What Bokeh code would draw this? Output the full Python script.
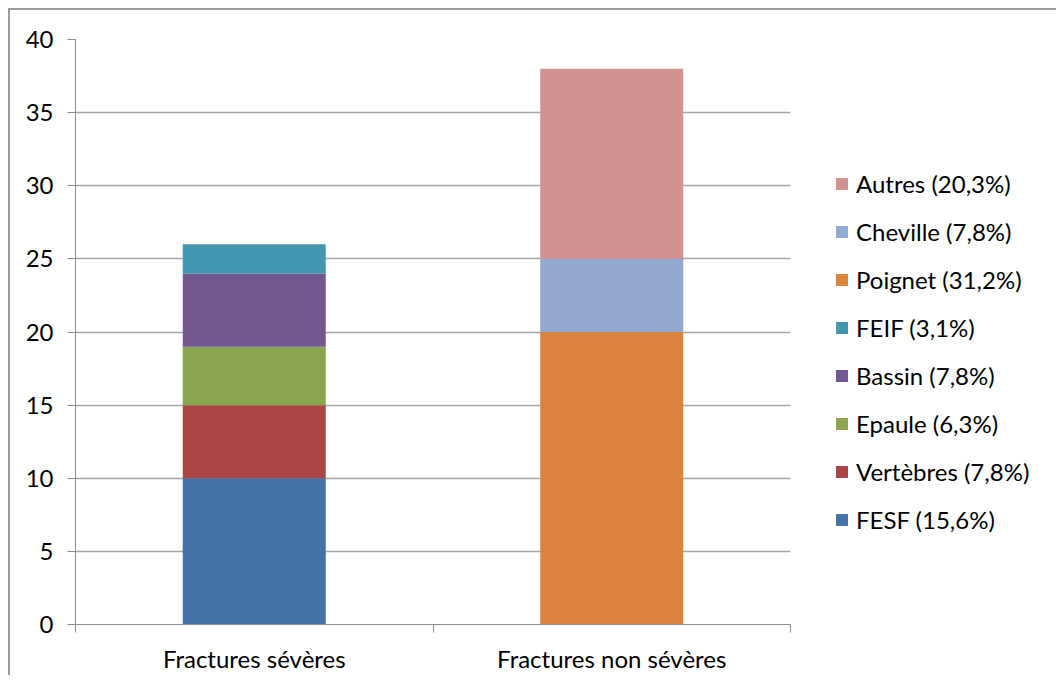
from bokeh.plotting import figure
from bokeh.models import ColumnDataSource, FixedTicker, Legend, LegendItem, Range1d
from bokeh.embed import file_html
from bokeh.resources import INLINE

categories = ["Fractures sévères", "Fractures non sévères"]
series = ["FESF", "Vertèbres", "Epaule", "Bassin", "FEIF", "Poignet", "Cheville", "Autres"]
labels = ["FESF (15,6%)", "Vertèbres (7,8%)", "Epaule (6,3%)", "Bassin (7,8%)",
          "FEIF (3,1%)", "Poignet (31,2%)", "Cheville (7,8%)", "Autres (20,3%)"]
fesf = [10, 0]
vertebres = [5, 0]
epaule = [4, 0]
bassin = [5, 0]
feif = [2, 0]
poignet = [0, 20]
cheville = [0, 5]
autres = [0, 13]
colors = ["#4572A7", "#AA4643", "#89A54E", "#71588F", "#4198AF", "#DB843D", "#93A9CF", "#D19392"]
y_ticks = [0, 5, 10, 15, 20, 25, 30, 35, 40]

FONT = "Lato"
xpos = [i + 0.5 for i in range(len(categories))]
data = {"x": xpos}
for name, vals in zip(series, [fesf, vertebres, epaule, bassin, feif, poignet, cheville, autres]):
    data[name] = vals
src = ColumnDataSource(data)

p = figure(frame_width=715, frame_height=585, output_backend="svg", toolbar_location=None,
           x_range=Range1d(0, len(categories)), y_range=Range1d(0, 40),
           min_border_left=65, min_border_top=29, min_border_right=0, min_border_bottom=45,
           styles={"margin-left": "8px", "margin-top": "8px",
                   "border-left": "2px solid #9a9a9a", "border-top": "2px solid #9a9a9a"})
p.outline_line_color = None
p.background_fill_color = "white"
p.border_fill_color = "white"

rs = p.vbar_stack(series, x="x", width=0.4, source=src, color=colors, line_color=None)

# y axis
p.yaxis.ticker = FixedTicker(ticks=y_ticks, minor_ticks=[])
p.yaxis.axis_line_color = "#8c8c8c"
p.yaxis.major_tick_line_color = "#8c8c8c"
p.yaxis.major_tick_out = 8
p.yaxis.major_tick_in = 0
p.yaxis.minor_tick_line_color = None
p.yaxis.major_label_text_font = FONT
p.yaxis.major_label_text_font_size = "24px"
p.yaxis.major_label_text_color = "black"
p.yaxis.major_label_standoff = 14

# x axis
p.xaxis.ticker = FixedTicker(ticks=xpos, minor_ticks=[0, 1, 2])
p.xaxis.major_label_overrides = {x: c for x, c in zip(xpos, categories)}
p.xaxis.axis_line_color = "#8c8c8c"
p.xaxis.major_tick_line_color = None
p.xaxis.major_tick_out = 0
p.xaxis.major_tick_in = 0
p.xaxis.minor_tick_line_color = "#8c8c8c"
p.xaxis.minor_tick_out = 8
p.xaxis.minor_tick_in = 0
p.xaxis.major_label_text_font = FONT
p.xaxis.major_label_text_font_size = "24px"
p.xaxis.major_label_text_color = "black"
p.xaxis.major_label_standoff = 11

p.xgrid.grid_line_color = None
p.ygrid.grid_line_color = "#a6a6a6"
p.ygrid.grid_line_width = 1.3

items = [LegendItem(label=lab, renderers=[r]) for lab, r in zip(labels, rs)]
items = items[::-1]
legend = Legend(items=items, location=(44, 90), orientation="vertical",
                glyph_width=15, glyph_height=15, label_height=16, spacing=19,
                label_standoff=7, padding=0, margin=0,
                border_line_color=None, background_fill_alpha=0,
                label_text_font=FONT, label_text_font_size="24px", label_text_color="black")
p.add_layout(legend, "right")

open("out.html", "w").write(file_html(p, INLINE))
